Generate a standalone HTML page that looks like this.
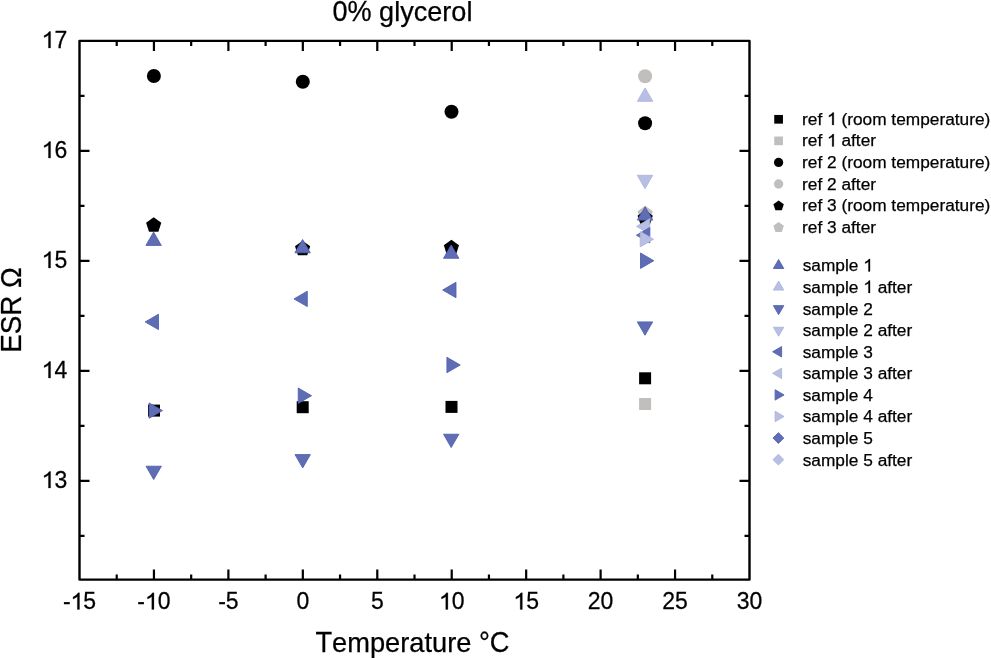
<!DOCTYPE html>
<html><head><meta charset="utf-8"><style>
html,body{margin:0;padding:0;background:#fff;}
svg{display:block;will-change:transform;}
text{font-family:"Liberation Sans",sans-serif;fill:#000;font-kerning:none;stroke:#000;stroke-width:0.25px;}
</style></head><body>
<svg width="991" height="658" viewBox="0 0 991 658">
<rect width="991" height="658" fill="#fff"/>
<g transform="translate(79.50,609.40) translate(-16.62,0) scale(1.0000,1.0100)"><text x="0.00" y="0" font-size="23.00">- 5</text><path d="M798 0L606 0L606 1147Q537 1085 424 1023Q311 961 222 930L222 1104Q383 1175 503 1276Q623 1377 673 1472L798 1472Z" transform="translate(7.66,0) scale(0.01123,-0.01112)" stroke="#000" stroke-width="0.25" vector-effect="non-scaling-stroke"/></g><g transform="translate(153.94,609.40) translate(-16.62,0) scale(1.0000,1.0100)"><text x="0.00" y="0" font-size="23.00">- 0</text><path d="M798 0L606 0L606 1147Q537 1085 424 1023Q311 961 222 930L222 1104Q383 1175 503 1276Q623 1377 673 1472L798 1472Z" transform="translate(7.66,0) scale(0.01123,-0.01112)" stroke="#000" stroke-width="0.25" vector-effect="non-scaling-stroke"/></g><g transform="translate(228.39,609.40) translate(-10.23,0) scale(1.0000,1.0100)"><text x="0.00" y="0" font-size="23.00">-5</text></g><g transform="translate(302.83,609.40) translate(-6.40,0) scale(1.0000,1.0100)"><text x="0.00" y="0" font-size="23.00">0</text></g><g transform="translate(377.28,609.40) translate(-6.40,0) scale(1.0000,1.0100)"><text x="0.00" y="0" font-size="23.00">5</text></g><g transform="translate(451.72,609.40) translate(-12.79,0) scale(1.0000,1.0100)"><text x="0.00" y="0" font-size="23.00"> 0</text><path d="M798 0L606 0L606 1147Q537 1085 424 1023Q311 961 222 930L222 1104Q383 1175 503 1276Q623 1377 673 1472L798 1472Z" transform="translate(0.00,0) scale(0.01123,-0.01112)" stroke="#000" stroke-width="0.25" vector-effect="non-scaling-stroke"/></g><g transform="translate(526.17,609.40) translate(-12.79,0) scale(1.0000,1.0100)"><text x="0.00" y="0" font-size="23.00"> 5</text><path d="M798 0L606 0L606 1147Q537 1085 424 1023Q311 961 222 930L222 1104Q383 1175 503 1276Q623 1377 673 1472L798 1472Z" transform="translate(0.00,0) scale(0.01123,-0.01112)" stroke="#000" stroke-width="0.25" vector-effect="non-scaling-stroke"/></g><g transform="translate(600.61,609.40) translate(-12.79,0) scale(1.0000,1.0100)"><text x="0.00" y="0" font-size="23.00">20</text></g><g transform="translate(675.06,609.40) translate(-12.79,0) scale(1.0000,1.0100)"><text x="0.00" y="0" font-size="23.00">25</text></g><g transform="translate(749.50,609.40) translate(-12.79,0) scale(1.0000,1.0100)"><text x="0.00" y="0" font-size="23.00">30</text></g><g transform="translate(67.20,488.00) translate(-25.58,0) scale(1.0000,1.0300)"><text x="0.00" y="0" font-size="23.00"> 3</text><path d="M798 0L606 0L606 1147Q537 1085 424 1023Q311 961 222 930L222 1104Q383 1175 503 1276Q623 1377 673 1472L798 1472Z" transform="translate(0.00,0) scale(0.01123,-0.01090)" stroke="#000" stroke-width="0.25" vector-effect="non-scaling-stroke"/></g><g transform="translate(67.20,378.00) translate(-25.58,0) scale(1.0000,1.0300)"><text x="0.00" y="0" font-size="23.00"> 4</text><path d="M798 0L606 0L606 1147Q537 1085 424 1023Q311 961 222 930L222 1104Q383 1175 503 1276Q623 1377 673 1472L798 1472Z" transform="translate(0.00,0) scale(0.01123,-0.01090)" stroke="#000" stroke-width="0.25" vector-effect="non-scaling-stroke"/></g><g transform="translate(67.20,268.00) translate(-25.58,0) scale(1.0000,1.0300)"><text x="0.00" y="0" font-size="23.00"> 5</text><path d="M798 0L606 0L606 1147Q537 1085 424 1023Q311 961 222 930L222 1104Q383 1175 503 1276Q623 1377 673 1472L798 1472Z" transform="translate(0.00,0) scale(0.01123,-0.01090)" stroke="#000" stroke-width="0.25" vector-effect="non-scaling-stroke"/></g><g transform="translate(67.20,158.00) translate(-25.58,0) scale(1.0000,1.0300)"><text x="0.00" y="0" font-size="23.00"> 6</text><path d="M798 0L606 0L606 1147Q537 1085 424 1023Q311 961 222 930L222 1104Q383 1175 503 1276Q623 1377 673 1472L798 1472Z" transform="translate(0.00,0) scale(0.01123,-0.01090)" stroke="#000" stroke-width="0.25" vector-effect="non-scaling-stroke"/></g><g transform="translate(67.20,48.00) translate(-25.58,0) scale(1.0000,1.0300)"><text x="0.00" y="0" font-size="23.00"> 7</text><path d="M798 0L606 0L606 1147Q537 1085 424 1023Q311 961 222 930L222 1104Q383 1175 503 1276Q623 1377 673 1472L798 1472Z" transform="translate(0.00,0) scale(0.01123,-0.01090)" stroke="#000" stroke-width="0.25" vector-effect="non-scaling-stroke"/></g><g transform="translate(332.44,20.80) translate(0.00,0)"><text transform="translate(0.00,0) scale(1,1.0600)" font-size="27.08">0%</text><text x="46.66" y="0" font-size="27.08">glycerol</text></g><g transform="translate(315.39,651.90) translate(0.00,0)"><text transform="translate(0.00,0) scale(1,1.0700)" font-size="27.25">T</text><text x="16.65" y="0" font-size="27.25">emperature </text><text transform="translate(163.57,0) scale(1,1.0700)" font-size="27.25">°C</text></g><g transform="translate(21.20,352.78) rotate(-90) translate(0.00,0) scale(1.0000,1.0410)"><text x="0.00" y="0" font-size="27.80">ESR Ω</text></g>
<rect x="79.5" y="40.9" width="670.00" height="538.70" fill="none" stroke="#000" stroke-width="2.4" stroke-linejoin="round"/>
<path d="M153.94,579.60V569.60M153.94,40.90V50.90M228.39,579.60V569.60M228.39,40.90V50.90M302.83,579.60V569.60M302.83,40.90V50.90M377.28,579.60V569.60M377.28,40.90V50.90M451.72,579.60V569.60M451.72,40.90V50.90M526.17,579.60V569.60M526.17,40.90V50.90M600.61,579.60V569.60M600.61,40.90V50.90M675.06,579.60V569.60M675.06,40.90V50.90M116.72,579.60V574.60M116.72,40.90V45.90M191.17,579.60V574.60M191.17,40.90V45.90M265.61,579.60V574.60M265.61,40.90V45.90M340.06,579.60V574.60M340.06,40.90V45.90M414.50,579.60V574.60M414.50,40.90V45.90M488.94,579.60V574.60M488.94,40.90V45.90M563.39,579.60V574.60M563.39,40.90V45.90M637.83,579.60V574.60M637.83,40.90V45.90M712.28,579.60V574.60M712.28,40.90V45.90M79.50,480.90H89.50M749.50,480.90H739.50M79.50,370.90H89.50M749.50,370.90H739.50M79.50,260.90H89.50M749.50,260.90H739.50M79.50,150.90H89.50M749.50,150.90H739.50M79.50,535.90H84.50M749.50,535.90H744.50M79.50,425.90H84.50M749.50,425.90H744.50M79.50,315.90H84.50M749.50,315.90H744.50M79.50,205.90H84.50M749.50,205.90H744.50M79.50,95.90H84.50M749.50,95.90H744.50" fill="none" stroke="#000" stroke-width="2.2"/>
<rect x="148.00" y="404.60" width="12.00" height="12.00" fill="#000000"/><rect x="296.70" y="401.20" width="12.00" height="12.00" fill="#000000"/><rect x="445.50" y="400.90" width="12.00" height="12.00" fill="#000000"/><rect x="639.10" y="372.30" width="12.00" height="12.00" fill="#000000"/><rect x="639.10" y="398.00" width="12.00" height="12.00" fill="#c0bfbd"/><circle cx="153.90" cy="76.00" r="7.00" fill="#000000"/><circle cx="302.80" cy="81.80" r="7.00" fill="#000000"/><circle cx="451.50" cy="111.80" r="7.00" fill="#000000"/><circle cx="645.10" cy="123.30" r="7.00" fill="#000000"/><circle cx="645.10" cy="76.30" r="7.00" fill="#c0bfbd"/><polygon points="645.20,205.80 652.81,211.33 649.90,220.27 640.50,220.27 637.59,211.33" fill="#c0bfbd"/><polygon points="153.70,217.30 161.31,222.83 158.40,231.77 149.00,231.77 146.09,222.83" fill="#000000"/><polygon points="302.60,240.70 310.21,246.23 307.30,255.17 297.90,255.17 294.99,246.23" fill="#000000"/><polygon points="451.40,239.70 459.01,245.23 456.10,254.17 446.70,254.17 443.79,245.23" fill="#000000"/><polygon points="645.20,210.10 652.81,215.63 649.90,224.57 640.50,224.57 637.59,215.63" fill="#000000"/><polygon points="153.60,232.06 161.29,245.38 145.91,245.38" fill="#5f6db5" stroke="#5262b0" stroke-width="0.9" stroke-linejoin="round"/><polygon points="302.60,239.46 310.29,252.78 294.91,252.78" fill="#5f6db5" stroke="#5262b0" stroke-width="0.9" stroke-linejoin="round"/><polygon points="451.20,244.96 458.89,258.28 443.51,258.28" fill="#5f6db5" stroke="#5262b0" stroke-width="0.9" stroke-linejoin="round"/><polygon points="645.10,206.76 652.79,220.08 637.41,220.08" fill="#5f6db5" stroke="#5262b0" stroke-width="0.9" stroke-linejoin="round"/><polygon points="645.10,87.96 652.79,101.28 637.41,101.28" fill="#b9bfe3" stroke="#adb4de" stroke-width="0.9" stroke-linejoin="round"/><polygon points="153.70,479.54 161.39,466.22 146.01,466.22" fill="#5f6db5" stroke="#5262b0" stroke-width="0.9" stroke-linejoin="round"/><polygon points="302.70,467.94 310.39,454.62 295.01,454.62" fill="#5f6db5" stroke="#5262b0" stroke-width="0.9" stroke-linejoin="round"/><polygon points="451.20,447.54 458.89,434.22 443.51,434.22" fill="#5f6db5" stroke="#5262b0" stroke-width="0.9" stroke-linejoin="round"/><polygon points="645.00,335.24 652.69,321.92 637.31,321.92" fill="#5f6db5" stroke="#5262b0" stroke-width="0.9" stroke-linejoin="round"/><polygon points="645.00,188.64 652.69,175.32 637.31,175.32" fill="#b9bfe3" stroke="#adb4de" stroke-width="0.9" stroke-linejoin="round"/><polygon points="636.46,226.40 649.78,218.71 649.78,234.09" fill="#b9bfe3" stroke="#adb4de" stroke-width="0.9" stroke-linejoin="round"/><polygon points="145.16,321.90 158.48,314.21 158.48,329.59" fill="#5f6db5" stroke="#5262b0" stroke-width="0.9" stroke-linejoin="round"/><polygon points="293.96,298.90 307.28,291.21 307.28,306.59" fill="#5f6db5" stroke="#5262b0" stroke-width="0.9" stroke-linejoin="round"/><polygon points="442.66,290.00 455.98,282.31 455.98,297.69" fill="#5f6db5" stroke="#5262b0" stroke-width="0.9" stroke-linejoin="round"/><polygon points="636.46,235.20 649.78,227.51 649.78,242.89" fill="#5f6db5" stroke="#5262b0" stroke-width="0.9" stroke-linejoin="round"/><polygon points="162.44,410.60 149.12,402.91 149.12,418.29" fill="#5f6db5" stroke="#5262b0" stroke-width="0.9" stroke-linejoin="round"/><polygon points="311.54,395.70 298.22,388.01 298.22,403.39" fill="#5f6db5" stroke="#5262b0" stroke-width="0.9" stroke-linejoin="round"/><polygon points="460.24,365.00 446.92,357.31 446.92,372.69" fill="#5f6db5" stroke="#5262b0" stroke-width="0.9" stroke-linejoin="round"/><polygon points="653.84,260.70 640.52,253.01 640.52,268.39" fill="#5f6db5" stroke="#5262b0" stroke-width="0.9" stroke-linejoin="round"/><polygon points="653.54,239.20 640.22,231.51 640.22,246.89" fill="#b9bfe3" stroke="#adb4de" stroke-width="0.9" stroke-linejoin="round"/>
<rect x="774.25" y="114.95" width="8.70" height="8.70" fill="#000000"/><g transform="translate(802.05,124.90) translate(0.00,0)"><text x="0.00" y="0" font-size="17.30">ref   (room temperature)</text><path d="M798 0L606 0L606 1147Q537 1085 424 1023Q311 961 222 930L222 1104Q383 1175 503 1276Q623 1377 673 1472L798 1472Z" transform="translate(25.00,0) scale(0.00845,-0.00845)" stroke="#000" stroke-width="0.25" vector-effect="non-scaling-stroke"/></g><rect x="774.25" y="136.52" width="8.70" height="8.70" fill="#c0bfbd"/><g transform="translate(802.05,146.47) translate(0.00,0)"><text x="0.00" y="0" font-size="17.30">ref   after</text><path d="M798 0L606 0L606 1147Q537 1085 424 1023Q311 961 222 930L222 1104Q383 1175 503 1276Q623 1377 673 1472L798 1472Z" transform="translate(25.00,0) scale(0.00845,-0.00845)" stroke="#000" stroke-width="0.25" vector-effect="non-scaling-stroke"/></g><circle cx="778.60" cy="162.44" r="4.65" fill="#000000"/><g transform="translate(802.05,168.04) translate(0.00,0)"><text x="0.00" y="0" font-size="17.30">ref 2 (room temperature)</text></g><circle cx="778.60" cy="184.01" r="4.65" fill="#c0bfbd"/><g transform="translate(802.05,189.61) translate(0.00,0)"><text x="0.00" y="0" font-size="17.30">ref 2 after</text></g><polygon points="778.60,200.38 783.83,204.18 781.83,210.33 775.37,210.33 773.37,204.18" fill="#000000"/><g transform="translate(802.05,211.18) translate(0.00,0)"><text x="0.00" y="0" font-size="17.30">ref 3 (room temperature)</text></g><polygon points="778.60,221.95 783.83,225.75 781.83,231.90 775.37,231.90 773.37,225.75" fill="#c0bfbd"/><g transform="translate(802.05,232.75) translate(0.00,0)"><text x="0.00" y="0" font-size="17.30">ref 3 after</text></g><polygon points="778.60,259.51 783.79,268.50 773.41,268.50" fill="#5f6db5" stroke="#5262b0" stroke-width="0.9" stroke-linejoin="round"/><g transform="translate(802.72,271.40) translate(0.00,0)"><text x="0.00" y="0" font-size="17.30">sample  </text><path d="M798 0L606 0L606 1147Q537 1085 424 1023Q311 961 222 930L222 1104Q383 1175 503 1276Q623 1377 673 1472L798 1472Z" transform="translate(60.58,0) scale(0.00845,-0.00845)" stroke="#000" stroke-width="0.25" vector-effect="non-scaling-stroke"/></g><polygon points="778.60,281.08 783.79,290.07 773.41,290.07" fill="#b9bfe3" stroke="#adb4de" stroke-width="0.9" stroke-linejoin="round"/><g transform="translate(802.72,292.97) translate(0.00,0)"><text x="0.00" y="0" font-size="17.30">sample   after</text><path d="M798 0L606 0L606 1147Q537 1085 424 1023Q311 961 222 930L222 1104Q383 1175 503 1276Q623 1377 673 1472L798 1472Z" transform="translate(60.58,0) scale(0.00845,-0.00845)" stroke="#000" stroke-width="0.25" vector-effect="non-scaling-stroke"/></g><polygon points="778.60,314.63 783.79,305.64 773.41,305.64" fill="#5f6db5" stroke="#5262b0" stroke-width="0.9" stroke-linejoin="round"/><g transform="translate(802.72,314.54) translate(0.00,0)"><text x="0.00" y="0" font-size="17.30">sample 2</text></g><polygon points="778.60,336.20 783.79,327.21 773.41,327.21" fill="#b9bfe3" stroke="#adb4de" stroke-width="0.9" stroke-linejoin="round"/><g transform="translate(802.72,336.11) translate(0.00,0)"><text x="0.00" y="0" font-size="17.30">sample 2 after</text></g><polygon points="772.61,351.78 781.60,346.59 781.60,356.97" fill="#5f6db5" stroke="#5262b0" stroke-width="0.9" stroke-linejoin="round"/><g transform="translate(802.72,357.68) translate(0.00,0)"><text x="0.00" y="0" font-size="17.30">sample 3</text></g><polygon points="772.61,373.35 781.60,368.16 781.60,378.54" fill="#b9bfe3" stroke="#adb4de" stroke-width="0.9" stroke-linejoin="round"/><g transform="translate(802.72,379.25) translate(0.00,0)"><text x="0.00" y="0" font-size="17.30">sample 3 after</text></g><polygon points="784.09,394.92 775.10,389.73 775.10,400.11" fill="#5f6db5" stroke="#5262b0" stroke-width="0.9" stroke-linejoin="round"/><g transform="translate(802.72,400.82) translate(0.00,0)"><text x="0.00" y="0" font-size="17.30">sample 4</text></g><polygon points="784.09,416.49 775.10,411.30 775.10,421.68" fill="#b9bfe3" stroke="#adb4de" stroke-width="0.9" stroke-linejoin="round"/><g transform="translate(802.72,422.39) translate(0.00,0)"><text x="0.00" y="0" font-size="17.30">sample 4 after</text></g><polygon points="778.40,432.66 783.80,438.06 778.40,443.46 773.00,438.06" fill="#5f6db5" stroke="#5262b0" stroke-width="0.9" stroke-linejoin="round"/><g transform="translate(802.72,443.96) translate(0.00,0)"><text x="0.00" y="0" font-size="17.30">sample 5</text></g><polygon points="778.40,454.23 783.80,459.63 778.40,465.03 773.00,459.63" fill="#b9bfe3" stroke="#adb4de" stroke-width="0.9" stroke-linejoin="round"/><g transform="translate(802.72,465.53) translate(0.00,0)"><text x="0.00" y="0" font-size="17.30">sample 5 after</text></g>
</svg>
</body></html>
